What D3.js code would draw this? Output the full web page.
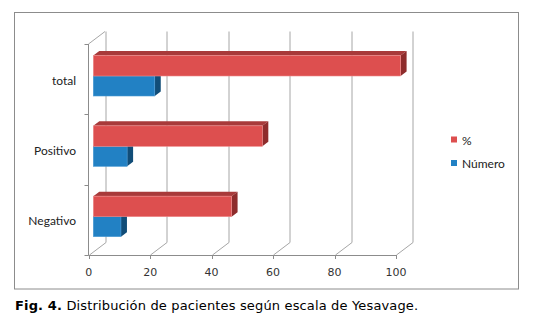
<!DOCTYPE html>
<html><head><meta charset="utf-8">
<script src="https://cdn.jsdelivr.net/npm/d3@7"></script>
<style>body{margin:0;background:#fff}svg{display:block}</style>
</head><body><svg id="c" width="538" height="326"></svg>
<script>
const categories = ["total", "Positivo", "Negativo"];
const pctValues = [100, 55, 45];
const numValues = [20, 11, 9];
const xTicks = [0, 20, 40, 60, 80, 100];
const seriesNames = ["%", "Número"];
const caption = ["Fig. 4.", " Distribución de pacientes según escala de Yesavage."];

const svg = d3.select("#c");
const x = d3.scaleLinear().domain([0, 100]).range([88.7, 396]);
const y = d3.scaleBand().domain(categories).range([44, 255]);
const wallDx = 16.5, wallDy = -12.5;   // back wall offset
const barDx = 4.6, barTop = 11.5;       // bar placement inside band
const dDx = 6, dDy = -4.5;              // bar depth
const redH = 20.5, blueH = 20;
const grid = "#a6a6a6", axisC = "#8c8c8c";

// outer border
svg.append("rect").attr("x", 14.5).attr("y", 12.5).attr("width", 504).attr("height", 276.5)
  .attr("fill", "#fff").attr("stroke", "#8c8c8c");

// back wall gridlines + floor diagonals
xTicks.forEach(v => {
  const fx = Math.round(x(v)) + 0.5;
  svg.append("line").attr("x1", fx + wallDx).attr("x2", fx + wallDx)
    .attr("y1", 44 + wallDy).attr("y2", 255 + wallDy).attr("stroke", grid);
  svg.append("line").attr("x1", fx).attr("y1", 255).attr("x2", fx + wallDx).attr("y2", 255 + wallDy)
    .attr("stroke", grid);
  svg.append("line").attr("x1", fx).attr("x2", fx).attr("y1", 255).attr("y2", 259).attr("stroke", axisC);
});
// left wall top diagonal
svg.append("line").attr("x1", 88.5).attr("y1", 44).attr("x2", 88.5 + wallDx).attr("y2", 44 + wallDy).attr("stroke", grid);
// front axes
svg.append("line").attr("x1", 88.5).attr("x2", 88.5).attr("y1", 44).attr("y2", 255.5).attr("stroke", axisC);
svg.append("line").attr("x1", 88.5).attr("x2", Math.round(x(100)) + 0.5).attr("y1", 255.5).attr("y2", 255.5).attr("stroke", axisC);
const bounds = categories.map(c => y(c)).concat([255]);
bounds.forEach(b => {
  const yy = Math.round(b) + 0.5;
  svg.append("line").attr("x1", 84.5).attr("x2", 88.5).attr("y1", yy).attr("y2", yy).attr("stroke", axisC);
});

// tick labels
svg.selectAll("text.tick").data(xTicks).enter().append("text")
  .attr("x", d => x(d)).attr("y", 276).attr("text-anchor", "middle")
  .attr("font-family", "DejaVu Sans").attr("font-size", 11).attr("fill", "#333").text(d => d);

// category labels
svg.selectAll("text.cat").data(categories).enter().append("text")
  .attr("x", 76).attr("y", d => y(d) + y.bandwidth() / 2 + 5.5).attr("text-anchor", "end")
  .attr("font-family", "Lato").attr("font-size", 12).attr("fill", "#222").text(d => d);

function bar3d(x0, x1, yTop, h, front, top, side, edge) {
  const g = svg.append("g");
  g.append("polygon").attr("points", [[x0, yTop], [x0 + dDx, yTop + dDy], [x1 + dDx, yTop + dDy], [x1, yTop]].join(" "))
    .attr("fill", top);
  g.append("polygon").attr("points", [[x1, yTop], [x1 + dDx, yTop + dDy], [x1 + dDx, yTop + h + dDy], [x1, yTop + h]].join(" "))
    .attr("fill", side);
  g.append("rect").attr("x", x0).attr("y", yTop).attr("width", x1 - x0).attr("height", h)
    .attr("fill", front).attr("stroke", edge).attr("stroke-width", 0.6);
}

const x0 = x(0) + barDx;
const scale = v => x0 + (x(v) - x(0));
categories.forEach((c, i) => {
  const t = y(c) + barTop;
  bar3d(x0, scale(numValues[i]), t + redH, blueH, "#2281c4", "#1a5f92", "#114d78", "#4a9ad4");
  bar3d(x0, scale(pctValues[i]), t, redH, "#dd4f4f", "#a83a3a", "#8e2c2c", "#ee8a8a");
});

// legend
const legColors = ["#dd4f4f", "#2281c4"];
seriesNames.forEach((n, i) => {
  const ly = 136.5 + i * 23.5;
  svg.append("rect").attr("x", 451).attr("y", ly).attr("width", 6).attr("height", 6).attr("fill", legColors[i]);
  svg.append("text").attr("x", 462).attr("y", ly + 8).attr("font-family", "Lato").attr("font-size", 12)
    .attr("fill", "#222").text(n);
});

// caption
const cap = svg.append("text").attr("x", 15).attr("y", 310).attr("font-family", "DejaVu Sans")
  .attr("font-size", 13).attr("letter-spacing", 0.15).attr("fill", "#000");
cap.append("tspan").attr("font-weight", "bold").text(caption[0]);
cap.append("tspan").text(caption[1]);
</script></body></html>
